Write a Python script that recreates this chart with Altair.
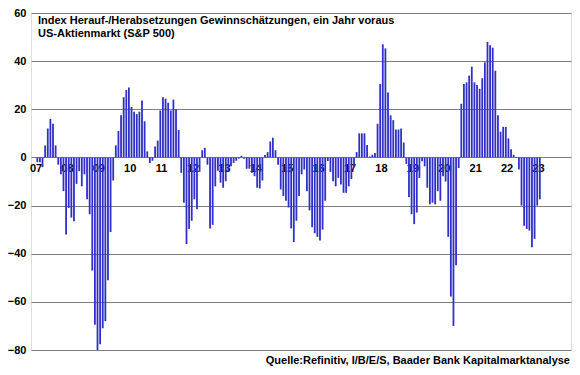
import altair as alt
import pandas as pd

# Year labels on the category axis
years = ["07", "08", "09", "10", "11", "12", "13", "14", "15",
         "16", "17", "18", "19", "20", "21", "22", "23"]

# Monthly index values (Jan..Dec)
v2007 = [-2, -2, -4, 5, 12, 16, 14, 5, -3, -7, -14, -32]
v2008 = [-21, -25, -26.5, -11, -5.7, -12, -7, -17.4, -23.6, -47, -69.5, -80]
v2009 = [-77.6, -71, -68, -51, -31, -9.6, 5, 11, 17.5, 25, 28, 29]
v2010 = [21, 19, 18, 19, 23.7, 15, 2.5, -2.3, -1.4, 4.5, 7, 19.5]
v2011 = [25, 24.4, 22.7, 19.5, 24, 20, 11.4, -6.4, -18.8, -36, -29.7, -26.3]
v2012 = [-17.4, -21.5, -6, 3, 4, -3, -29.5, -28, -12, -5.5, -10.5, -12.6]
v2013 = [-9.9, -5.8, -3.7, -2.3, -1.4, -0.5, 0.7, -0.5, -4.7, -4.7, -6.4, -7.8]
v2014 = [-12.6, -12.9, -9.6, 1, 2.2, 6.6, 8.2, 3, -3, -13.3, -16, -18]
v2015 = [-20.8, -29.5, -35.2, -26.3, -16, -7, -5, -14, -22, -29, -31.5, -33]
v2016 = [-34.5, -30, -18, -1.5, -6, -9.9, -12, -8.5, -11.2, -14.7, -14.7, -12]
v2017 = [-9, -4, 2.2, 10, 10, 10, 5.2, 0.4, 1.1, 1.8, 14, 30.5]
v2018 = [47, 45.3, 27, 17.5, 15.5, 11.6, 11.6, 12, 6.2, -2.7, -16.4, -23.6]
v2019 = [-27.7, -22.9, -8.5, -1.6, -3.7, -12.6, -19.5, -18.8, -19.5, -14, -18, -7.8]
v2020 = [-10, -33, -57.8, -70, -44.8, -4.4, 22.3, 30.5, 31.2, 34, 37.7, 31.2]
v2021 = [30.1, 28.5, 32.9, 39.5, 48, 46.6, 45.6, 36, 17.5, 10.7, 12.7, 12.7]
v2022 = [7.9, 3.4, 1.1, -0.3, -5, -20, -28.4, -29.7, -30.4, -37.3, -33.8, -20]
v2023 = [-17.4]

y_ticks = [-80, -60, -40, -20, 0, 20, 40, 60]

title_line1 = "Index Herauf-/Herabsetzungen Gewinnschätzungen, ein Jahr voraus"
title_line2 = "US-Aktienmarkt (S&P 500)"
source_text = "Quelle:Refinitiv, I/B/E/S, Baader Bank Kapitalmarktanalyse"

values = (v2007 + v2008 + v2009 + v2010 + v2011 + v2012 + v2013 + v2014 +
          v2015 + v2016 + v2017 + v2018 + v2019 + v2020 + v2021 + v2022 + v2023)
df = pd.DataFrame({"k": list(range(len(values))), "v": values})
lab_df = pd.DataFrame({"k": [12 * i - 0.5 for i in range(len(years))], "lab": years})

FONT = "Liberation Sans"
xscale = alt.Scale(domain=[-0.5, 202.0], nice=False, zero=False)
yscale = alt.Scale(domain=[-80, 60], nice=False)

labels = alt.Chart(lab_df).mark_text(
    dy=12, fontSize=11, fontWeight="bold", font=FONT, color="black", baseline="middle"
).encode(
    x=alt.X("k:Q", scale=xscale, axis=None),
    y=alt.datum(0),
    text="lab:N",
)

bars = alt.Chart(df).mark_bar(size=1.8, color="#3030C8").encode(
    x=alt.X("k:Q", scale=xscale, axis=None),
    y=alt.Y("v:Q", scale=yscale, axis=alt.Axis(
        values=y_ticks, title=None, labelFont=FONT, labelFontWeight="bold",
        labelFontSize=11, labelColor="black", grid=True, gridColor="#808080",
        gridWidth=1, domain=False, ticks=False, labelPadding=5)),
    y2=alt.datum(0),
)

t1 = alt.Chart(pd.DataFrame({"t": [title_line1]})).mark_text(
    align="left", baseline="alphabetic", fontSize=11, fontWeight="bold", font=FONT, color="black"
).encode(x=alt.value(7), y=alt.value(11), text="t:N")

t2 = alt.Chart(pd.DataFrame({"t": [title_line2]})).mark_text(
    align="left", baseline="alphabetic", fontSize=11, fontWeight="bold", font=FONT, color="black"
).encode(x=alt.value(7), y=alt.value(24), text="t:N")

src = alt.Chart(pd.DataFrame({"t": [source_text]})).mark_text(
    align="right", baseline="alphabetic", fontSize=11, fontWeight="bold", font=FONT, color="black"
).encode(x=alt.value(539), y=alt.value(351), text="t:N")

chart = alt.layer(labels, bars, t1, t2, src).properties(
    width=540, height=337,
    autosize=alt.AutoSizeParams(type="none"),
    padding={"left": 23, "top": 5, "right": 1, "bottom": 17},
).configure_view(stroke="#808080", strokeWidth=1).configure(font=FONT)

chart.save("out.html", embed_options={"renderer": "svg", "actions": False})
